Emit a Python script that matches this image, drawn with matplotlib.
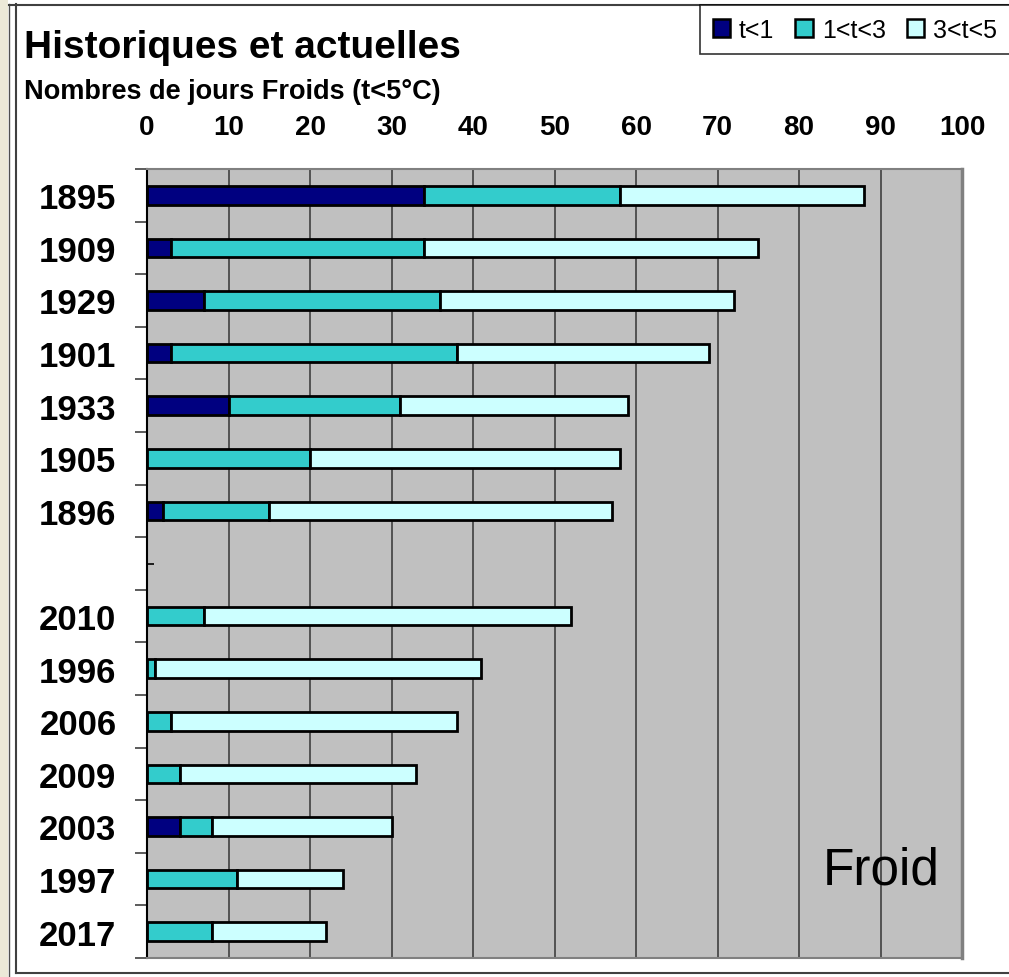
import numpy as np
import matplotlib.pyplot as plt
from matplotlib.patches import Rectangle, Patch
from matplotlib.lines import Line2D

# data (days per class)
years = ['1895', '1909', '1929', '1901', '1933', '1905', '1896', '',
         '2010', '1996', '2006', '2009', '2003', '1997', '2017']
t_lt1 = [34, 3, 7, 3, 10, 0, 2, 0, 0, 0, 0, 0, 4, 0, 0]
t_1_3 = [24, 31, 29, 35, 21, 20, 13, 0, 7, 1, 3, 4, 4, 11, 8]
t_3_5 = [30, 41, 36, 31, 28, 38, 42, 0, 45, 40, 35, 29, 22, 13, 14]
xticks = [0, 10, 20, 30, 40, 50, 60, 70, 80, 90, 100]
series_names = ['t<1', '1<t<3', '3<t<5']
colors = ['#000080', '#33CCCC', '#CCFFFF']

plt.rcParams['font.family'] = ['Liberation Sans', 'DejaVu Sans']

W, H = 1009, 978
fig = plt.figure(figsize=(W / 100, H / 100), dpi=100)
fig.patch.set_facecolor('white')

# outer frame like the screenshot
fig.patches.append(Rectangle((0, 0), 8 / W, 1, transform=fig.transFigure,
                             facecolor='#ECE9D8', edgecolor='none', zorder=0))
fig.add_artist(Line2D([8.5 / W, 8.5 / W], [0, 1 - 5 / H], color='#505050', lw=1))
fig.add_artist(Line2D([15.5 / W, 15.5 / W], [1 - 974 / H, 1 - 5 / H], color='#404040', lw=1.5))
fig.add_artist(Line2D([8.5 / W, 1], [1 - 5.5 / H, 1 - 5.5 / H], color='#404040', lw=1.5))
fig.add_artist(Line2D([15.5 / W, 1], [1 - 974 / H, 1 - 974 / H], color='#404040', lw=1.5))

ax = fig.add_axes([147 / W, 1 - 959 / H, (962 - 147) / W, (959 - 170) / H])
ax.set_facecolor('#C0C0C0')

y = np.arange(len(years))
a = np.array(t_lt1)
b = np.array(t_1_3)
c = np.array(t_3_5)
h = 0.35
mask = (a + b + c) > 0
for vals, left, col, name in [(a, 0 * a, colors[0], series_names[0]),
                              (b, a, colors[1], series_names[1]),
                              (c, a + b, colors[2], series_names[2])]:
    m = mask & (vals > 0)
    ax.barh(y[m], vals[m], left=left[m], height=h, color=col,
            edgecolor='black', linewidth=2.0, zorder=3)

ax.set_xlim(0, 100)
ax.set_ylim(len(years) - 0.5, -0.5)

ax.xaxis.tick_top()
ax.set_xticks(xticks)
ax.set_xticklabels([str(v) for v in xticks], fontsize=20, fontweight='bold')
ax.tick_params(axis='x', length=0, pad=21)
ax.grid(axis='x', color='#404040', linewidth=1.2, zorder=1)
ax.set_axisbelow(True)

ax.set_yticks(y)
ax.set_yticklabels(years, fontsize=25, fontweight='bold')
ax.set_yticks(np.arange(-0.5, len(years)), minor=True)
ax.tick_params(axis='y', which='major', direction='in', length=5, width=1.2,
               color='black', pad=22)
ax.tick_params(axis='y', which='minor', direction='out', length=9, width=1.2,
               color='#404040')

ax.spines['left'].set_color('black')
ax.spines['left'].set_linewidth(1.5)
for s in ['top', 'right', 'bottom']:
    ax.spines[s].set_color('#808080')
    ax.spines[s].set_linewidth(1.5)
ax.spines['right'].set_linewidth(2.5)

ax.text(823 / W, 1 - 885 / H, 'Froid', transform=fig.transFigure,
        fontsize=37, va='baseline', ha='left', zorder=5)

fig.text(24 / W, 1 - 58 / H, 'Historiques et actuelles', fontsize=28,
         fontweight='bold', va='baseline', ha='left')
fig.text(24 / W, 1 - 99 / H, 'Nombres de jours Froids (t<5°C)', fontsize=19.5,
         fontweight='bold', va='baseline', ha='left')

handles = [Patch(facecolor=col, edgecolor='black', linewidth=1.8) for col in colors]
leg = fig.legend(handles, series_names, loc='upper left',
                 bbox_to_anchor=(700 / W, 1 - 6 / H), ncol=3, fontsize=18,
                 handlelength=0.7, handleheight=0.7, handletextpad=0.35,
                 columnspacing=0.85, borderpad=0.5, borderaxespad=0,
                 fancybox=False, frameon=True)
leg.get_frame().set_edgecolor('black')
leg.get_frame().set_linewidth(1.2)

fig.savefig('out.png', dpi=100)
